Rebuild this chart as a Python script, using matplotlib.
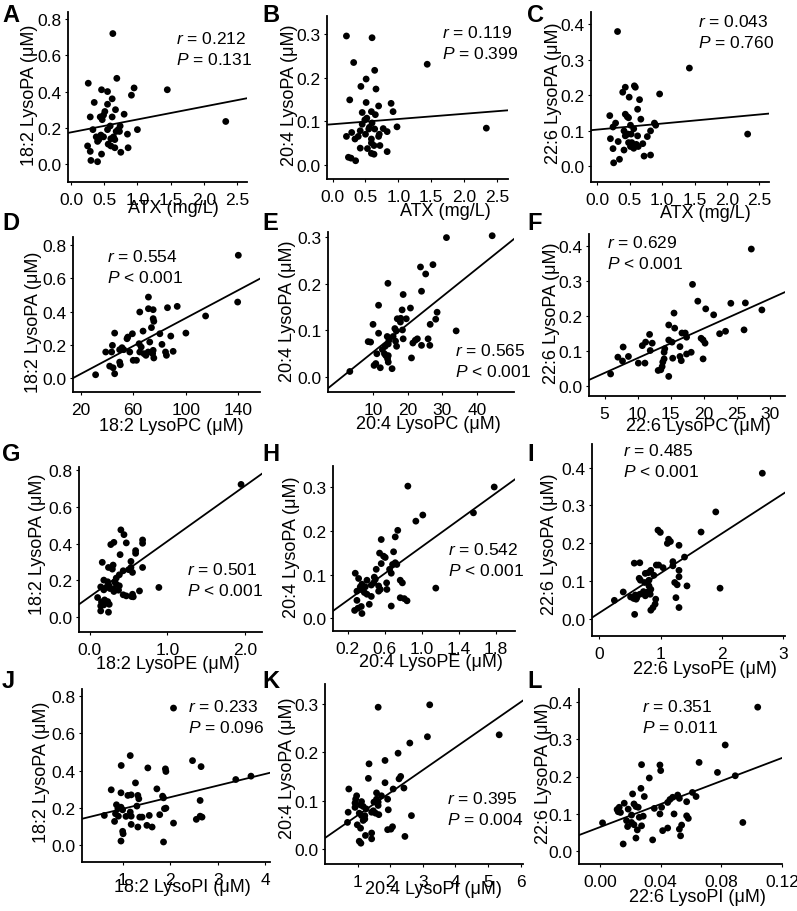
import matplotlib
matplotlib.use("Agg")
import matplotlib.pyplot as plt
from matplotlib.ticker import FormatStrFormatter

plt.rcParams['font.family'] = ['Liberation Sans', 'DejaVu Sans']
plt.rcParams['mathtext.fontset'] = 'custom'
plt.rcParams['mathtext.it'] = 'Liberation Sans:italic'
plt.rcParams['mathtext.rm'] = 'Liberation Sans'

W, H = 797, 912

# ---------------- data ----------------
a_x = [0.63, 0.26, 0.69, 0.46, 0.55, 0.95, 0.91, 1.45, 0.35, 0.62, 0.55, 0.67, 0.51, 0.80,
       0.29, 0.44, 0.49, 0.62, 0.47, 0.74, 0.71, 0.55, 1.00, 0.33, 2.33, 0.73, 0.45, 0.38,
       0.49, 0.64, 0.60, 0.66, 0.85, 0.40, 0.42, 0.56, 0.60, 0.66, 0.25, 0.86, 0.75, 0.46,
       0.29, 0.30, 0.40, 0.59, 0.68]
a_y = [0.72, 0.446, 0.473, 0.41, 0.40, 0.42, 0.38, 0.41, 0.34, 0.36, 0.33, 0.30, 0.29, 0.275,
       0.26, 0.26, 0.27, 0.26, 0.245, 0.21, 0.19, 0.19, 0.19, 0.19, 0.235, 0.18, 0.16, 0.15,
       0.15, 0.15, 0.14, 0.135, 0.165, 0.125, 0.135, 0.11, 0.10, 0.09, 0.10, 0.09, 0.065, 0.055,
       0.07, 0.02, 0.013, 0.21, 0.18]

b_x = [0.21, 0.60, 0.32, 1.44, 0.64, 0.51, 0.43, 0.66, 0.26, 0.51, 0.89, 0.70, 0.59, 0.92,
       0.45, 0.52, 0.65, 0.49, 0.45, 0.60, 0.98, 0.77, 0.64, 0.55, 0.42, 0.29, 0.83, 0.71,
       0.50, 0.21, 0.70, 0.39, 0.59, 0.34, 0.63, 0.72, 0.42, 0.53, 0.59, 0.83, 0.59, 0.63,
       0.24, 0.28, 0.35, 2.34, 0.56]
b_y = [0.296, 0.292, 0.235, 0.231, 0.217, 0.197, 0.18, 0.174, 0.149, 0.143, 0.141, 0.135,
       0.122, 0.122, 0.12, 0.107, 0.115, 0.103, 0.093, 0.096, 0.087, 0.083, 0.082, 0.082,
       0.078, 0.074, 0.076, 0.07, 0.07, 0.065, 0.065, 0.065, 0.059, 0.059, 0.044, 0.044,
       0.038, 0.037, 0.05, 0.03, 0.026, 0.024, 0.017, 0.015, 0.009, 0.084, 0.086]

c_x = [0.31, 1.42, 0.96, 0.57, 0.585, 0.43, 0.39, 0.49, 0.65, 0.62, 0.19, 0.43, 0.46, 0.48,
       0.67, 0.28, 0.51, 0.56, 0.88, 0.90, 0.24, 0.41, 0.47, 0.52, 0.82, 0.20, 0.43, 0.62,
       0.77, 0.32, 0.48, 0.53, 0.60, 0.70, 0.63, 0.51, 0.56, 0.24, 0.41, 0.72, 0.82, 0.34,
       0.25, 2.32]
c_y = [0.379, 0.276, 0.203, 0.226, 0.222, 0.222, 0.208, 0.194, 0.187, 0.16, 0.142, 0.146,
       0.139, 0.136, 0.132, 0.121, 0.115, 0.105, 0.121, 0.115, 0.11, 0.099, 0.09, 0.09,
       0.099, 0.077, 0.085, 0.085, 0.083, 0.069, 0.066, 0.066, 0.061, 0.063, 0.055, 0.055,
       0.05, 0.049, 0.045, 0.028, 0.031, 0.019, 0.009, 0.09]

d_x = [140.0, 139.5, 115.1, 71.6, 65.0, 71.6, 75.2, 86.1, 93.5, 75.2, 75.7, 73.9, 67.5, 45.9,
       59.4, 55.9, 55.3, 80.3, 88.6, 100.1, 64.5, 72.6, 66.1, 81.9, 44.2, 51.5, 52.8, 49.7,
       39.1, 43.6, 57.4, 65.0, 71.4, 75.2, 68.2, 74.8, 84.6, 90.4, 69.7, 85.3, 75.7, 62.5,
       60.0, 49.7, 50.2, 42.1, 44.7, 45.9, 31.4]
d_y = [0.74, 0.458, 0.374, 0.488, 0.398, 0.418, 0.412, 0.424, 0.432, 0.358, 0.342, 0.304,
       0.283, 0.271, 0.267, 0.247, 0.237, 0.267, 0.253, 0.271, 0.207, 0.217, 0.187, 0.203,
       0.197, 0.183, 0.171, 0.171, 0.157, 0.157, 0.157, 0.157, 0.157, 0.167, 0.147, 0.147,
       0.157, 0.161, 0.137, 0.137, 0.121, 0.107, 0.107, 0.096, 0.080, 0.072, 0.062, 0.026,
       0.020]

e_x = [31.2, 44.4, 23.7, 27.3, 25.2, 24.0, 14.3, 18.7, 11.6, 20.8, 18.4, 28.5, 18.0, 19.6,
       17.0, 28.1, 26.5, 10.0, 17.9, 16.3, 18.5, 16.7, 18.7, 11.6, 34.0, 14.1, 15.8, 14.6,
       22.8, 22.2, 25.9, 8.6, 9.3, 16.5, 21.5, 14.4, 16.8, 24.0, 26.4, 13.5, 12.7, 11.1,
       13.3, 13.7, 14.4, 21.1, 14.2, 14.4, 10.8, 10.3, 12.1, 15.5, 3.3]
e_y = [0.299, 0.303, 0.236, 0.241, 0.221, 0.184, 0.201, 0.177, 0.154, 0.148, 0.144, 0.139,
       0.126, 0.125, 0.125, 0.124, 0.113, 0.113, 0.118, 0.104, 0.101, 0.099, 0.082, 0.094,
       0.099, 0.087, 0.087, 0.079, 0.082, 0.079, 0.082, 0.076, 0.075, 0.077, 0.073, 0.071,
       0.066, 0.068, 0.068, 0.066, 0.059, 0.05, 0.05, 0.046, 0.046, 0.041, 0.039, 0.032,
       0.029, 0.025, 0.020, 0.018, 0.012]

f_x = [27.2, 18.3, 19.1, 20.3, 24.1, 26.3, 28.8, 21.5, 15.5, 14.7, 15.6, 26.1, 23.3, 22.4,
       11.8, 16.7, 17.2, 17.4, 19.6, 19.9, 14.7, 20.2, 11.2, 12.2, 10.7, 15.2, 7.8, 14.1,
       16.4, 11.9, 14.0, 18.1, 17.4, 7.0, 8.6, 15.3, 16.4, 16.6, 19.9, 7.7, 14.0, 10.1,
       11.1, 13.8, 13.7, 13.1, 13.5, 5.9, 14.7]
f_y = [0.39, 0.289, 0.241, 0.219, 0.235, 0.236, 0.216, 0.202, 0.207, 0.173, 0.164, 0.159,
       0.155, 0.148, 0.146, 0.150, 0.150, 0.138, 0.135, 0.130, 0.130, 0.121, 0.124, 0.121,
       0.114, 0.124, 0.110, 0.105, 0.111, 0.100, 0.095, 0.095, 0.09, 0.081, 0.083, 0.078,
       0.083, 0.071, 0.076, 0.070, 0.076, 0.064, 0.064, 0.067, 0.054, 0.043, 0.045, 0.033,
       0.026]

g_x = [1.95, 0.40, 0.44, 0.31, 0.27, 0.47, 0.68, 0.68, 0.39, 0.59, 0.59, 0.16, 0.53, 0.30,
       0.24, 0.29, 0.43, 0.53, 0.68, 0.55, 0.50, 0.38, 0.18, 0.34, 0.23, 0.32, 0.34, 0.25,
       0.14, 0.21, 0.26, 0.31, 0.38, 0.37, 0.89, 0.18, 0.31, 0.64, 0.43, 0.55, 0.47, 0.54,
       0.10, 0.19, 0.23, 0.15, 0.56, 0.25, 0.18, 0.14, 0.14, 0.24]
g_y = [0.723, 0.475, 0.449, 0.407, 0.395, 0.404, 0.402, 0.42, 0.34, 0.362, 0.347, 0.298,
       0.303, 0.283, 0.27, 0.261, 0.252, 0.27, 0.27, 0.243, 0.258, 0.23, 0.201, 0.212,
       0.192, 0.192, 0.179, 0.17, 0.164, 0.161, 0.155, 0.152, 0.17, 0.146, 0.161, 0.148,
       0.139, 0.142, 0.121, 0.124, 0.115, 0.111, 0.106, 0.093, 0.084, 0.082, 0.110, 0.069,
       0.066, 0.06, 0.033, 0.026]

h_x = [0.849, 1.78, 1.01, 0.935, 1.556, 0.74, 0.713, 0.562, 0.695, 0.544, 0.587, 0.605,
       0.713, 0.684, 0.562, 0.73, 0.282, 0.508, 0.652, 0.67, 0.487, 0.318, 0.498, 0.408,
       0.62, 0.767, 0.79, 0.354, 0.48, 0.455, 0.534, 0.39, 0.336, 0.354, 0.552, 0.534,
       0.623, 0.30, 1.15, 0.38, 0.408, 0.455, 0.767, 0.81, 0.84, 0.30, 0.433, 0.67, 0.347,
       0.275, 0.311, 0.354]
h_y = [0.302, 0.300, 0.236, 0.222, 0.241, 0.201, 0.186, 0.180, 0.152, 0.149, 0.142, 0.139,
       0.127, 0.123, 0.125, 0.123, 0.103, 0.112, 0.112, 0.103, 0.094, 0.091, 0.089, 0.087,
       0.081, 0.087, 0.081, 0.078, 0.081, 0.076, 0.074, 0.072, 0.072, 0.065, 0.066, 0.062,
       0.066, 0.062, 0.069, 0.059, 0.055, 0.050, 0.047, 0.045, 0.040, 0.041, 0.032, 0.028,
       0.027, 0.018, 0.023, 0.011]

i_x = [2.66, 1.90, 1.66, 0.957, 0.995, 1.13, 1.16, 1.11, 1.30, 1.39, 1.20, 1.20, 0.57, 0.66,
       0.93, 0.967, 1.04, 1.30, 0.84, 0.80, 0.75, 0.89, 1.30, 0.65, 0.67, 0.81, 0.74, 1.23,
       1.27, 1.43, 0.81, 0.84, 0.80, 0.39, 0.72, 0.66, 0.587, 0.83, 1.97, 0.56, 0.61, 1.25,
       0.92, 0.245, 0.60, 0.75, 0.51, 0.91, 1.30, 0.875, 0.84, 0.576]
i_y = [0.385, 0.283, 0.230, 0.235, 0.229, 0.211, 0.205, 0.200, 0.195, 0.164, 0.152, 0.141,
       0.148, 0.149, 0.143, 0.143, 0.136, 0.129, 0.129, 0.123, 0.121, 0.116, 0.112, 0.108,
       0.103, 0.103, 0.097, 0.097, 0.091, 0.088, 0.088, 0.079, 0.073, 0.072, 0.073, 0.066,
       0.064, 0.066, 0.082, 0.055, 0.057, 0.057, 0.053, 0.050, 0.053, 0.062, 0.059, 0.040,
       0.031, 0.031, 0.024, 0.013]

j_x = [2.07, 1.16, 2.47, 0.97, 1.53, 1.90, 1.91, 2.65, 3.38, 3.70, 0.76, 0.965, 1.27, 1.72,
       1.11, 1.18, 1.32, 1.34, 1.84, 1.86, 2.63, 0.87, 1.30, 0.965, 1.00, 0.90, 1.88, 1.91,
       1.16, 0.85, 0.615, 0.91, 1.07, 1.18, 1.36, 1.41, 1.56, 1.78, 2.63, 2.67, 2.55, 0.83,
       1.18, 1.51, 1.62, 1.32, 2.07, 1.00, 1.01, 0.965, 1.86]
j_y = [0.734, 0.48, 0.453, 0.427, 0.414, 0.409, 0.395, 0.421, 0.352, 0.37, 0.297, 0.281,
       0.334, 0.302, 0.267, 0.27, 0.267, 0.249, 0.263, 0.254, 0.24, 0.217, 0.21, 0.204,
       0.19, 0.196, 0.196, 0.199, 0.178, 0.169, 0.16, 0.156, 0.155, 0.156, 0.151, 0.151,
       0.16, 0.164, 0.156, 0.151, 0.139, 0.128, 0.112, 0.107, 0.098, 0.098, 0.119, 0.075,
       0.062, 0.023, 0.018]

k_x = [1.63, 3.21, 5.34, 3.14, 2.60, 2.24, 1.84, 1.35, 1.33, 2.32, 2.27, 1.84, 0.73, 2.42,
       2.09, 1.58, 0.97, 1.73, 1.58, 1.92, 0.94, 1.12, 0.92, 1.50, 1.63, 1.09, 1.17, 1.63,
       1.26, 0.92, 1.94, 1.48, 0.71, 1.05, 1.43, 1.12, 1.22, 1.65, 1.55, 2.65, 1.22, 1.17,
       0.69, 0.99, 2.07, 2.02, 1.92, 1.09, 1.43, 1.24, 2.45, 1.43, 1.05, 1.10]
k_y = [0.293, 0.298, 0.236, 0.232, 0.219, 0.198, 0.183, 0.176, 0.146, 0.150, 0.145, 0.137,
       0.124, 0.126, 0.124, 0.116, 0.110, 0.110, 0.103, 0.103, 0.103, 0.098, 0.095, 0.097,
       0.097, 0.091, 0.088, 0.090, 0.083, 0.086, 0.081, 0.079, 0.076, 0.074, 0.076, 0.069,
       0.069, 0.071, 0.074, 0.069, 0.062, 0.059, 0.055, 0.050, 0.046, 0.041, 0.040, 0.043,
       0.033, 0.028, 0.026, 0.021, 0.016, 0.012]

l_x = [0.104, 0.0826, 0.0654, 0.0275, 0.0396, 0.0401, 0.0775, 0.0892, 0.0326, 0.0271, 0.0216,
       0.0293, 0.0513, 0.048, 0.0524, 0.0610, 0.0634, 0.0462, 0.0447, 0.0572, 0.0161, 0.0225,
       0.0128, 0.0238, 0.0253, 0.0114, 0.0187, 0.0121, 0.0136, 0.0359, 0.0407, 0.0209, 0.0396,
       0.0489, 0.0572, 0.0583, 0.0286, 0.0260, 0.0176, 0.0018, 0.0209, 0.0225, 0.0183, 0.0275,
       0.0247, 0.0539, 0.0524, 0.0447, 0.0414, 0.0942, 0.0532, 0.0238, 0.0348, 0.0154]
l_y = [0.387, 0.285, 0.238, 0.232, 0.231, 0.216, 0.211, 0.202, 0.196, 0.168, 0.153, 0.146,
       0.150, 0.144, 0.141, 0.157, 0.146, 0.138, 0.130, 0.132, 0.128, 0.126, 0.117, 0.119,
       0.117, 0.111, 0.112, 0.105, 0.103, 0.114, 0.117, 0.096, 0.099, 0.099, 0.094, 0.087,
       0.093, 0.090, 0.081, 0.075, 0.076, 0.070, 0.065, 0.067, 0.056, 0.069, 0.058, 0.061,
       0.054, 0.076, 0.040, 0.034, 0.029, 0.018]

# regression lines (intercept, slope) and statistics
fit_b0 = [0.175, 0.093, 0.1027, -0.0598, -0.0061, -0.0063, 0.111, 0.0104, 0.017, 0.133, 0.0228, 0.0633]
fit_b1 = [0.071, 0.012, 0.017, 0.00421, 0.00596, 0.00846, 0.302, 0.1533, 0.1046, 0.0622, 0.0468, 1.556]
r_vals = ['0.212', '0.119', '0.043', '0.554', '0.565', '0.629', '0.501', '0.542', '0.485', '0.233', '0.395', '0.351']
p_vals = ['= 0.131', '= 0.399', '= 0.760', '< 0.001', '< 0.001', '< 0.001',
          '< 0.001', '< 0.001', '< 0.001', '= 0.096', '= 0.004', '= 0.011']

letters = list('ABCDEFGHIJKL')
species = ['18:2', '20:4', '22:6']
x_names = ['ATX (mg/L)', 'ATX (mg/L)', 'ATX (mg/L)',
           '18:2 LysoPC (μM)', '20:4 LysoPC (μM)', '22:6 LysoPC (μM)',
           '18:2 LysoPE (μM)', '20:4 LysoPE (μM)', '22:6 LysoPE (μM)',
           '18:2 LysoPI (μM)', '20:4 LysoPI (μM)', '22:6 LysoPI (μM)']

x_ticks = [[0, 0.5, 1, 1.5, 2, 2.5], [0, 0.5, 1, 1.5, 2, 2.5], [0, 0.5, 1, 1.5, 2, 2.5],
           [20, 60, 100, 140], [10, 20, 30, 40], [5, 10, 15, 20, 25, 30],
           [0, 1, 2], [0.2, 0.6, 1.0, 1.4, 1.8], [0, 1, 2, 3],
           [1, 2, 3, 4], [1, 2, 3, 4, 5, 6], [0, 0.04, 0.08, 0.12]]
x_fmt = ['%.1f'] * 3 + ['%d'] * 3 + ['%.1f', '%.1f', '%d', '%d', '%d', '%.2f']
y_ticks = [[0, 0.2, 0.4, 0.6, 0.8], [0, 0.1, 0.2, 0.3], [0, 0.1, 0.2, 0.3, 0.4]] * 4

# ---------------- layout (pixels in the 797x912 canvas) ----------------
ax_px = [(68, 13, 247, 183), (327, 17, 508, 180), (591, 13, 769, 183),
         (73, 238, 260, 393), (328, 233, 514, 393), (589, 235, 785, 397),
         (79, 468, 262, 633), (333, 467, 515, 632), (592, 445, 785, 637),
         (82, 690, 270, 863), (325, 685, 523, 865), (579, 690, 782, 865)]
xlims = [(-0.045, 2.65), (-0.086, 2.67), (-0.10, 2.65), (14.2, 156.5), (-3.0, 50.7),
         (2.63, 32.3), (-0.14, 2.22), (0.042, 2.004), (-0.12, 3.03), (0.145, 4.1),
         (0.0, 6.07), (-0.0137, 0.12)]
ylims = [(-0.099, 0.839), (-0.033, 0.342), (-0.045, 0.434), (-0.084, 0.85), (-0.032, 0.311),
         (-0.030, 0.433), (-0.082, 0.818), (-0.029, 0.348), (-0.044, 0.462), (-0.089, 0.836),
         (-0.031, 0.341), (-0.036, 0.436)]
stat_px = [(176, 39), (442, 33), (698, 22), (107, 257), (455, 351), (607, 243),
           (187, 570), (448, 550), (623, 451), (188, 707), (447, 799), (642, 707)]
xlab_px = [(173, 209), (445, 212), (705, 213), (171, 427), (428, 425), (698, 427),
           (168, 665), (431, 663), (705, 670), (182, 888), (433, 890), (697, 898)]
ylab_px = [(29, 95), (290, 95), (553, 93), (33, 322), (287, 311), (551, 313),
           (38, 544), (292, 547), (550, 544), (42, 772), (288, 768), (543, 773)]
letter_x = [2, 262, 527]
letter_y = [15, 224, 455, 681]

xs = [a_x, b_x, c_x, d_x, e_x, f_x, g_x, h_x, i_x, j_x, k_x, l_x]
ys = [a_y, b_y, c_y, d_y, e_y, f_y, g_y, h_y, i_y, j_y, k_y, l_y]

fig = plt.figure(figsize=(W / 100, H / 100), dpi=100)


def fx(x):
    return x / W


def fy(y):
    return 1 - y / H


for i in range(12):
    l, t, r, b = ax_px[i]
    ax = fig.add_axes([fx(l), fy(b), (r - l) / W, (b - t) / H])
    ax.scatter(xs[i], ys[i], s=24, color='black', edgecolors='none', zorder=3)
    ax.axline((0, fit_b0[i]), slope=fit_b1[i], color='black', lw=1.3)
    ax.set_xlim(*xlims[i])
    ax.set_ylim(*ylims[i])
    ax.set_xticks(x_ticks[i])
    ax.set_yticks(y_ticks[i])
    ax.xaxis.set_major_formatter(FormatStrFormatter(x_fmt[i]))
    ax.yaxis.set_major_formatter(FormatStrFormatter('%.1f'))
    for side in ['top', 'right']:
        ax.spines[side].set_visible(False)
    for side in ['left', 'bottom']:
        ax.spines[side].set_linewidth(1.3)
    ax.tick_params(labelsize=12.5, length=2.5, width=0.8, pad=2)
    ax.tick_params(axis='x', pad=5)

    sx, sy = stat_px[i]
    fig.text(fx(sx), fy(sy), '$r$ = ' + r_vals[i], fontsize=12.5, ha='left', va='center')
    fig.text(fx(sx), fy(sy + 21), '$P$ ' + p_vals[i], fontsize=12.5, ha='left', va='center')

    lx, ly = xlab_px[i]
    fig.text(fx(lx), fy(ly), x_names[i], fontsize=13, ha='center', va='center')
    yx, yy = ylab_px[i]
    fig.text(fx(yx), fy(yy), species[i % 3] + ' LysoPA (μM)', fontsize=13,
             ha='center', va='center', rotation=90)

    fig.text(fx(letter_x[i % 3]), fy(letter_y[i // 3]), letters[i], fontsize=17,
             fontweight='bold', ha='left', va='center')

fig.savefig('out.png', dpi=100)
